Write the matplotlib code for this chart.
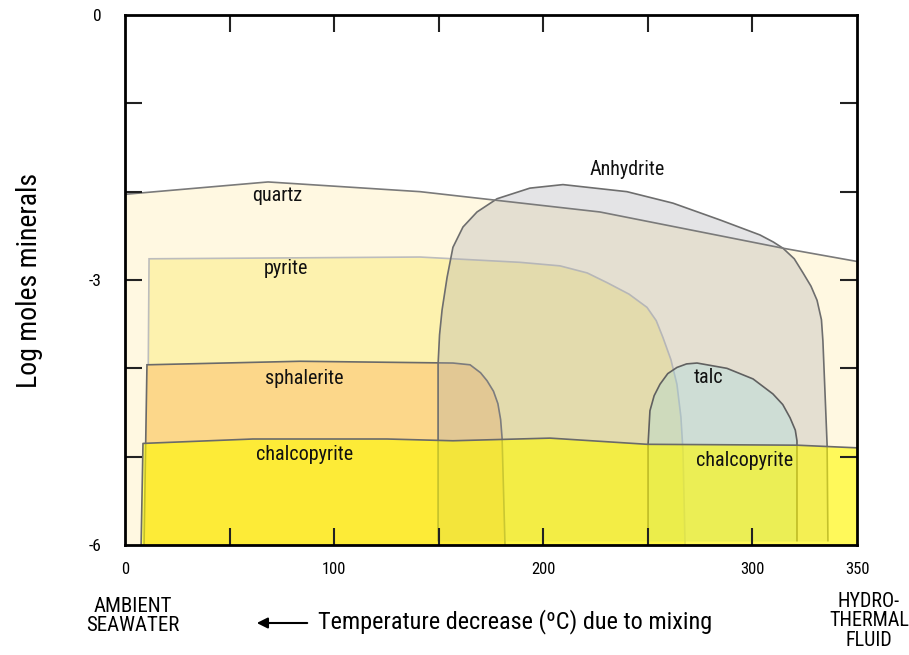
import matplotlib
matplotlib.use("Agg")
import matplotlib.pyplot as plt
from matplotlib import font_manager as fm
from matplotlib.patches import Polygon, FancyArrowPatch
import numpy as np

# ---- pick a condensed sans font if one is installed ----
entries = fm.fontManager.ttflist
names = {f.name for f in entries}
fam, stretch = None, 'normal'
for n in ['Roboto Condensed', 'Liberation Sans Narrow', 'Open Sans Condensed',
          'Noto Sans Condensed', 'DejaVu Sans Condensed']:
    if n in names:
        fam = n
        break
if fam is None:
    for n in ['Roboto', 'Noto Sans', 'Open Sans', 'DejaVu Sans', 'Liberation Sans']:
        if any(f.name == n and str(f.stretch) in ('condensed', 'semi-condensed')
               for f in entries):
            fam, stretch = n, 'condensed'
            break
if fam is None:
    fam = 'Liberation Sans'
plt.rcParams['font.family'] = [fam, 'DejaVu Sans']
plt.rcParams['font.stretch'] = stretch
narrow = (fam != 'Liberation Sans')
fs_scale = 1.0 if narrow else 0.86

# ---- data (temperature decrease in degC, log moles) ----
quartz_x = [0, 68.4, 141.1, 227.1, 314.6, 350]
quartz_y = [-2.03, -1.89, -2.00, -2.23, -2.64, -2.79]

pyrite_x = [10.5, 11.5, 141.1, 188.9, 208.0, 221.0, 230.5, 241.0, 249.6, 254.0, 257.2, 261.0,
            263.9, 265.8, 266.8, 267.8]
pyrite_y = [-6.0, -2.76, -2.74, -2.80, -2.84, -2.92, -3.03, -3.16, -3.31, -3.46, -3.65, -3.90,
            -4.18, -4.55, -4.94, -6.0]

sphal_x = [9.1, 10.5, 83.7, 156.8, 165.0, 170.0, 173.1, 176.2, 178.3, 179.6, 180.3, 181.7]
sphal_y = [-6.0, -3.96, -3.92, -3.94, -3.96, -4.05, -4.14, -4.26, -4.40, -4.58, -4.79, -6.0]

chalco_x = [7.7, 8.6, 61.2, 125.3, 156.8, 203.2, 249.6, 321.3, 350]
chalco_y = [-6.0, -4.85, -4.80, -4.80, -4.82, -4.79, -4.86, -4.87, -4.90]

anhy_x = [149.7, 149.7, 150.4, 151.6, 154.0, 156.8, 161.6, 168.3, 177.9, 193.6, 209.4, 240.0,
          262.0, 284.5, 303.6, 310.0, 314.6, 320.0, 324.2, 328.0, 330.9, 333.0, 333.7, 335.7,
          336.1]
anhy_y = [-5.96, -3.95, -3.62, -3.34, -2.97, -2.63, -2.40, -2.23, -2.08, -1.96, -1.92, -2.00,
          -2.13, -2.32, -2.49, -2.57, -2.64, -2.76, -2.92, -3.07, -3.23, -3.45, -3.69, -4.86,
          -5.96]

talc_x = [250.1, 250.1, 251.0, 253.0, 255.8, 259.5, 263.9, 268.5, 273.5, 287.8, 300.3, 309.8,
          314.5, 318.0, 320.5, 321.3, 321.3]
talc_y = [-5.96, -4.86, -4.48, -4.31, -4.18, -4.06, -3.99, -3.95, -3.94, -4.00, -4.12, -4.29,
          -4.41, -4.56, -4.70, -4.82, -5.96]

labels = ["quartz", "pyrite", "sphalerite", "chalcopyrite", "Anhydrite", "talc", "chalcopyrite"]
label_x = [73.0, 77.0, 85.5, 86.0, 240.0, 279.0, 296.0]
label_y = [-2.04, -2.87, -4.12, -4.97, -1.75, -4.10, -5.04]

xticks_major = [0, 100, 200, 300, 350]
xtick_labels = ["0", "100", "200", "300", "350"]
xticks_minor = [50, 100, 150, 200, 250, 300]
yticks_major = [0, -3, -6]
yticks_minor = [-1, -2, -3, -4, -5]

fig = plt.figure(figsize=(9.09, 6.55), dpi=100)
ax = fig.add_axes([125/909, 1-545/655, (857-125)/909, (545-15)/655])
ax.set_xlim(0, 350)
ax.set_ylim(-6, 0)
ax.xaxis.remove_overlapping_locs = False
ax.yaxis.remove_overlapping_locs = False

LW = 1.2
# quartz: fill under the top line
qx = [0] + quartz_x + [350]
qy = [-6] + quartz_y + [-6]
ax.add_patch(Polygon(np.column_stack([qx, qy]), closed=True, facecolor='#FFF8E1',
                     edgecolor='none', zorder=1))
ax.plot(quartz_x, quartz_y, color='#7a7a7a', lw=LW, zorder=7)

# pyrite
ax.add_patch(Polygon(np.column_stack([pyrite_x, pyrite_y]), closed=False, facecolor='#FDF2AE',
                     edgecolor='#BDBDBD', lw=LW, zorder=2))
# sphalerite
ax.add_patch(Polygon(np.column_stack([sphal_x, sphal_y]), closed=False, facecolor='#FCD78A',
                     edgecolor='#6a6a6a', lw=LW, zorder=3))
# anhydrite
ax.add_patch(Polygon(np.column_stack([anhy_x, anhy_y]), closed=False,
                     facecolor=(0.66, 0.66, 0.68, 0.30), edgecolor='#6e6e6e', lw=LW, zorder=4))
# talc
ax.add_patch(Polygon(np.column_stack([talc_x, talc_y]), closed=False,
                     facecolor=(0.62, 0.85, 0.88, 0.30), edgecolor='#606060', lw=LW, zorder=4.5))
# chalcopyrite (semi-transparent yellow on top)
cx = chalco_x + [350]
cy = chalco_y + [-6]
ax.add_patch(Polygon(np.column_stack([cx, cy]), closed=False, facecolor=(1.0, 0.98, 0.0, 0.6),
                     edgecolor='none', zorder=5))
ax.plot(chalco_x, chalco_y, color='#6a6a6a', lw=LW, zorder=7)

for t, x, y in zip(labels, label_x, label_y):
    ax.text(x, y, t, fontsize=14.5*fs_scale, ha='center', va='center', color='#111111',
            zorder=10)

# axes styling
for s in ax.spines.values():
    s.set_linewidth(2.0)
    s.set_color('black')
    s.set_zorder(12)
ax.xaxis.set_zorder(11)
ax.yaxis.set_zorder(11)
ax.set_xticks(xticks_major)
ax.set_xticklabels(xtick_labels, fontsize=12*fs_scale)
ax.set_xticks(xticks_minor, minor=True)
ax.set_yticks(yticks_major)
ax.set_yticklabels([str(v) for v in yticks_major], fontsize=12.5*fs_scale)
ax.set_yticks(yticks_minor, minor=True)
ax.tick_params(axis='x', which='major', length=0, pad=12)
ax.tick_params(axis='y', which='major', length=0, pad=17)
ax.tick_params(axis='both', which='minor', direction='in', length=12, width=1.5,
               color='#222222', top=True, right=True, left=True, bottom=True)
ax.tick_params(axis='both', which='minor', labelleft=False, labelbottom=False)

ax.set_ylabel("Log moles minerals", fontsize=20*fs_scale, labelpad=33)

# bottom annotations
fig.text(133/909, 1-616/655, "AMBIENT\nSEAWATER", fontsize=15*fs_scale, ha='center',
         va='center', linespacing=1.05)
fig.text(869/909, 1-621/655, "HYDRO-\nTHERMAL\nFLUID", fontsize=14.5*fs_scale, ha='center',
         va='center', linespacing=1.05)
fig.text(318/909, 1-622/655, "Temperature decrease (ºC) due to mixing", fontsize=17.5*fs_scale,
         ha='left', va='center')
arr = FancyArrowPatch((310/909, 1-623/655), (254/909, 1-623/655), transform=fig.transFigure,
                      arrowstyle='-|>', mutation_scale=16, lw=1.5, color='black')
fig.patches.append(arr)

fig.savefig("out.png", dpi=100)
